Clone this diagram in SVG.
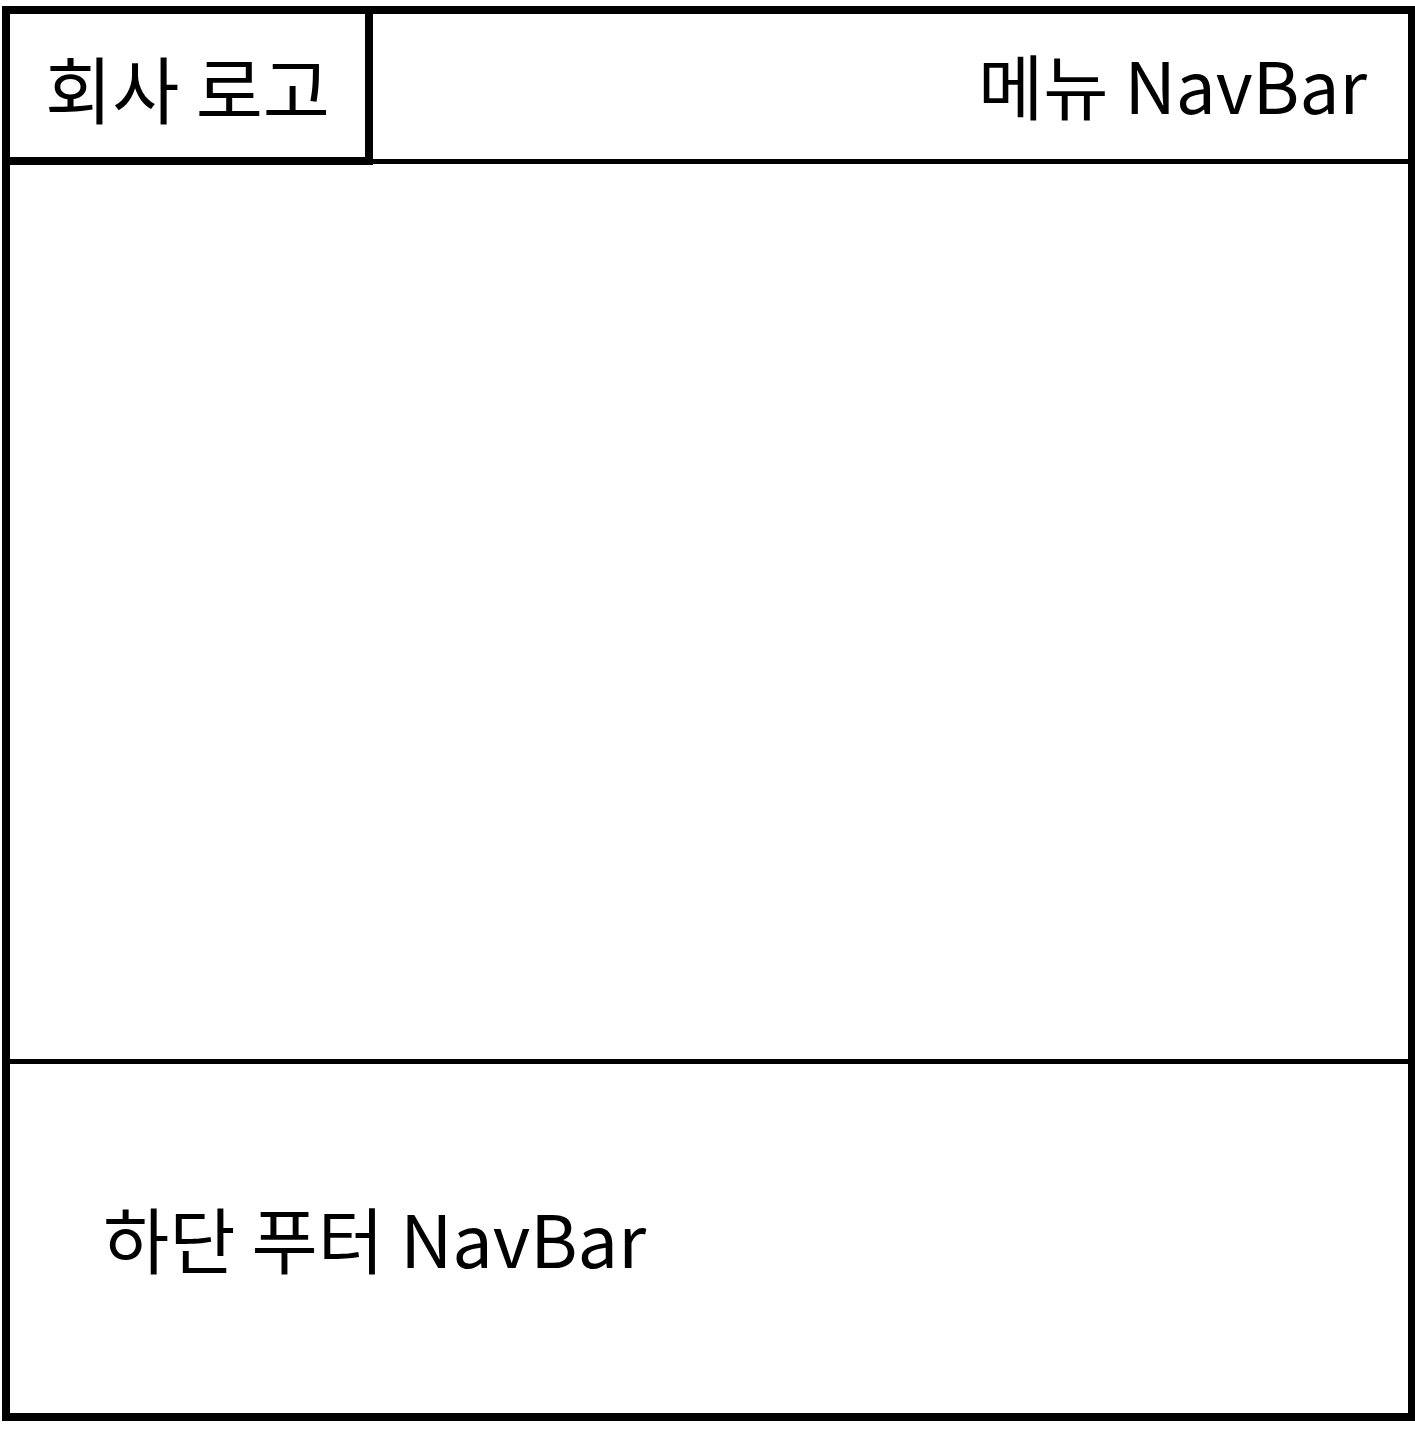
<svg xmlns="http://www.w3.org/2000/svg" width="1415" height="1443" viewBox="0 0 1415 1443">
<style>
.t{font-family:"Noto Sans CJK KR","Noto Sans",sans-serif;font-size:71px;fill:#000}
.thick{fill:none;stroke:#000;stroke-width:8}
.thin{fill:none;stroke:#000;stroke-width:5}
</style>
<rect width="1415" height="1443" fill="#fff"/>
<g id="page"><rect class="thick" x="6" y="10" width="1406" height="1407"/></g>
<g id="menu"><rect class="thin" x="369" y="10" width="1043" height="151.5"/>
<text class="t" x="1367" y="114" text-anchor="end">메뉴 NavBar</text></g>
<g id="logo"><rect class="thick" x="6" y="10" width="363" height="151"/>
<text class="t" x="187.5" y="118" text-anchor="middle" style="font-size:73px">회사 로고</text></g>
<g id="footer"><line class="thin" x1="6" y1="1061.5" x2="1412" y2="1061.5"/>
<text class="t" x="103" y="1268" style="font-size:72px">하단 푸터 NavBar</text></g>
<g id="connectors"/>
</svg>
